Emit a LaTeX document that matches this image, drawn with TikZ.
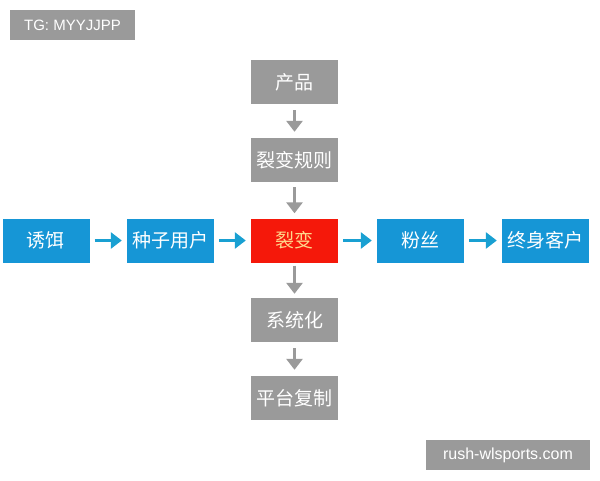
\documentclass[tikz,border=0pt]{standalone}
\usepackage{fontspec}
\newfontfamily\cjk{Noto Sans CJK SC}
\setmainfont{Liberation Sans}
\usetikzlibrary{arrows.meta}
\definecolor{bx}{RGB}{154,154,154}
\definecolor{bl}{RGB}{22,150,214}
\definecolor{rd}{RGB}{245,24,10}
\definecolor{ar}{RGB}{25,160,210}
\begin{document}
\begin{tikzpicture}[x=1pt,y=-1pt,
 box/.style={minimum width=87pt,minimum height=44pt,inner sep=0pt,font=\cjk\fontsize{19}{19}\selectfont,text=white},
 g/.style={box,fill=bx}, b/.style={box,fill=bl},
 va/.style={draw=bx,line width=3.5pt,-{Triangle[length=11pt,width=16pt]}},
 ha/.style={draw=ar,line width=3.5pt,-{Triangle[length=11pt,width=16pt]}}]
\useasboundingbox[fill=white] (0,0) rectangle (600,480);
\node[g] (p) at (294.5,82) {产品};
\node[g] (r) at (294.5,160) {裂变规则};
\node[box,fill=rd,text={rgb,255:red,255;green,215;blue,140}] (f) at (294.5,240.5) {裂变};
\node[g] (s) at (294.5,320) {系统化};
\node[g] (t) at (294.5,398) {平台复制};
\node[b] (a) at (46,240.5) {诱饵};
\node[b] (c) at (170.5,240.5) {种子用户};
\node[b] (d) at (420.5,240.5) {粉丝};
\node[b] (e) at (545.5,240.5) {终身客户};
\draw[va] ([yshift=-6pt]p.south) -- ([yshift=6pt]r.north);
\draw[va] ([yshift=-5pt]r.south) -- ([yshift=5pt]f.north);
\draw[va] ([yshift=-3pt]f.south) -- ([yshift=4pt]s.north);
\draw[va] ([yshift=-6pt]s.south) -- ([yshift=6pt]t.north);
\draw[ha] ([xshift=5pt]a.east) -- ([xshift=-5pt]c.west);
\draw[ha] ([xshift=5pt]c.east) -- ([xshift=-5pt]f.west);
\draw[ha] ([xshift=5pt]f.east) -- ([xshift=-5pt]d.west);
\draw[ha] ([xshift=5pt]d.east) -- ([xshift=-5pt]e.west);
\node[fill=bx,text=white,minimum width=125pt,minimum height=30pt,inner sep=0pt,font=\fontsize{15}{15}\selectfont] (tg) at (72.5,25) {TG: MYYJJPP};
\node[fill=bx,text=white,minimum width=164pt,minimum height=30pt,inner sep=0pt,font=\fontsize{16}{16}\selectfont] (w) at (508,455) {rush-wlsports.com};
\end{tikzpicture}
\end{document}
